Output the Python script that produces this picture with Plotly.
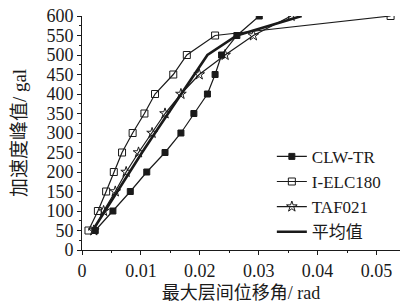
import plotly.graph_objects as go

accel = [50, 100, 150, 200, 250, 300, 350, 400, 450, 500, 550, 600]
clw_tr = [0.00225, 0.00525, 0.0082, 0.011, 0.0141, 0.0168, 0.019, 0.0213, 0.0226, 0.0237, 0.0263, 0.0301]
i_elc180 = [0.0011, 0.0027, 0.0041, 0.0054, 0.0068, 0.0086, 0.0106, 0.0124, 0.0155, 0.0178, 0.0226, 0.0524]
taf021 = [0.002, 0.00367, 0.00565, 0.0075, 0.0096, 0.0119, 0.0141, 0.0168, 0.0199, 0.0243, 0.0291, 0.0355]
average = [0.0018, 0.0039, 0.006, 0.008, 0.0102, 0.0124, 0.0146, 0.0168, 0.0190, 0.0213, 0.0263, 0.0373]

names = ["CLW-TR", "I-ELC180", "TAF021", "平均值"]
x_title = "最大层间位移角/ rad"
y_title = "加速度峰值/ gal"

FONT = "Liberation Serif, Times New Roman, Noto Sans CJK SC, serif"
INK = "#1a1a1a"

fig = go.Figure()
fig.add_trace(go.Scatter(x=clw_tr, y=accel, name=names[0], mode="lines+markers",
                         line=dict(color=INK, width=1.2),
                         marker=dict(symbol="square", size=6, color=INK, line=dict(color=INK, width=1))))
fig.add_trace(go.Scatter(x=i_elc180, y=accel, name=names[1], mode="lines+markers",
                         line=dict(color=INK, width=1.2),
                         marker=dict(symbol="square-open", size=7, color=INK, line=dict(color=INK, width=1))))
fig.add_trace(go.Scatter(x=taf021, y=accel, name=names[2], mode="lines+markers",
                         line=dict(color=INK, width=1.2),
                         marker=dict(symbol="star-open", size=8, color=INK, line=dict(color=INK, width=1))))
fig.add_trace(go.Scatter(x=average, y=accel, name=names[3], mode="lines",
                         line=dict(color=INK, width=2.6)))

axis_common = dict(showline=True, linecolor=INK, linewidth=1, ticks="outside", ticklen=4,
                   tickcolor=INK, showgrid=False, zeroline=False, mirror=False, automargin=False,
                   tickfont=dict(family=FONT, size=18, color=INK))

fig.update_xaxes(range=[0, 0.054], tickvals=[0, 0.01, 0.02, 0.03, 0.04, 0.05],
                 ticktext=["0", "0.01", "0.02", "0.03", "0.04", "0.05"],
                 minor=dict(dtick=0.005, ticks="outside", ticklen=2, tickcolor=INK),
                 title=dict(text=x_title, font=dict(family=FONT, size=18, color=INK), standoff=6),
                 **axis_common)
fig.update_yaxes(range=[0, 600], dtick=50,
                 minor=dict(dtick=25, ticks="outside", ticklen=2, tickcolor=INK),
                 title=dict(text=y_title, font=dict(family=FONT, size=19, color=INK), standoff=14),
                 **axis_common)

fig.update_layout(
    width=405, height=304,
    margin=dict(l=82, r=5, t=16, b=54),
    paper_bgcolor="white", plot_bgcolor="white",
    font=dict(family=FONT, color=INK),
    legend=dict(x=0.597, y=0.475, xanchor="left", yanchor="top",
                font=dict(family=FONT, size=17, color=INK),
                bgcolor="rgba(0,0,0,0)", tracegroupgap=0, itemwidth=30),
)

fig.write_html("out.html", config={"displayModeBar": False},
               post_script="document.body.style.margin='0';")
